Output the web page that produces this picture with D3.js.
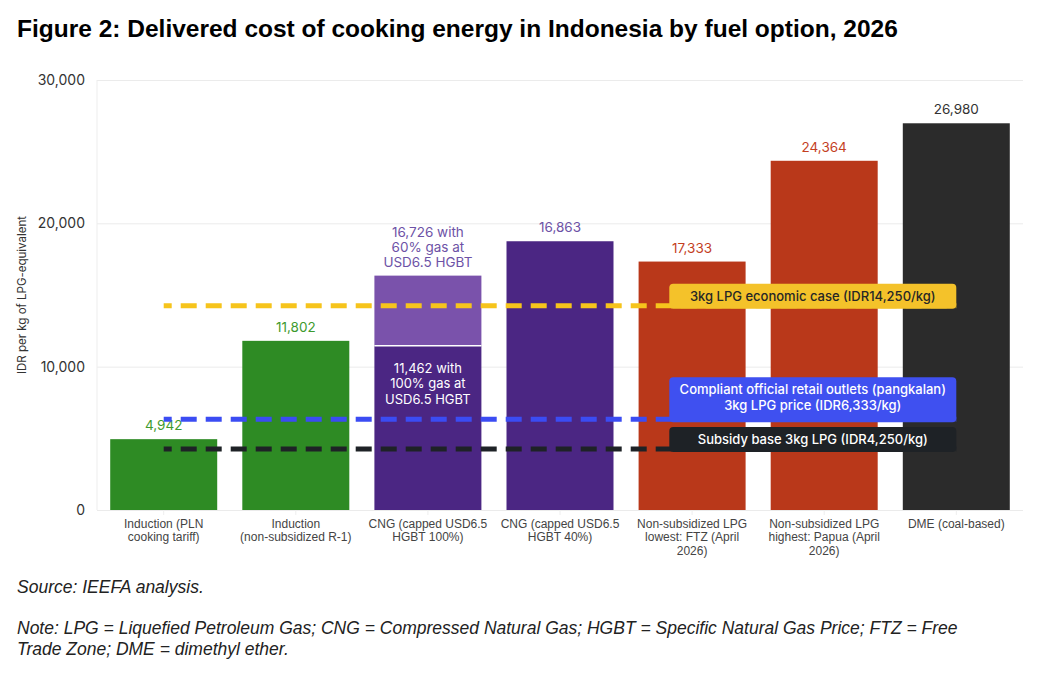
<!DOCTYPE html>
<html lang="en">
<head>
    <meta charset="UTF-8">
    <title>Figure 2</title>
    <script src="https://d3js.org/d3.v7.min.js"></script>
    <style>
        * { margin: 0; padding: 0; box-sizing: border-box; }
        body { background: #fff; font-family: Inter, "Noto Sans", sans-serif; }
        .title { font-family: "Liberation Sans", Arial, sans-serif; font-weight: bold; }
        .foot { font-family: "Liberation Sans", Arial, sans-serif; font-style: italic; }
    </style>
</head>
<body>
    <div id="chart"></div>
    <script>
        // categories (x axis labels, one entry per line)
        const categories = [
            ["Induction (PLN", "cooking tariff)"],
            ["Induction", "(non-subsidized R-1)"],
            ["CNG (capped USD6.5", "HGBT 100%)"],
            ["CNG (capped USD6.5", "HGBT 40%)"],
            ["Non-subsidized LPG", "lowest: FTZ (April", "2026)"],
            ["Non-subsidized LPG", "highest: Papua (April", "2026)"],
            ["DME (coal-based)"]
        ];
        // bar heights as drawn in the picture
        const barBase = [4942, 11802, 11462, 18750, 17333, 24364, 26980];
        const barTop  = [0, 0, 4890, 0, 0, 0, 0];   // extra stacked segment (CNG 60% gas)
        const valueLabels = [["4,942"], ["11,802"], ["16,726 with", "60% gas at", "USD6.5 HGBT"],
                             ["16,863"], ["17,333"], ["24,364"], ["26,980"]];
        const innerLabel = ["11,462 with", "100% gas at", "USD6.5 HGBT"];
        const yTicks = [0, 10000, 20000, 30000];

        const refValues = [14250, 6333, 4250];
        const refLabels = [
            ["3kg LPG economic case (IDR14,250/kg)"],
            ["Compliant official retail outlets (pangkalan)", "3kg LPG price (IDR6,333/kg)"],
            ["Subsidy base 3kg LPG (IDR4,250/kg)"]
        ];

        const barColors = ["#2e8b24", "#2e8b24", "#4b2683", "#4b2683", "#b9381a", "#b9381a", "#2b2b2b"];
        const labelColors = ["#3e9a2e", "#3e9a2e", "#6d52a6", "#6d52a6", "#c43f1f", "#c43f1f", "#333"];
        const refLine = ["#f6c41c", "#3b4cf3", "#1e2226"];
        const refBox = ["#f4c22a", "#3f50f0", "#1e2226"];
        const refText = ["#262626", "#fff", "#fff"];

        const W = 1045, H = 675;
        const margin = { top: 80, left: 97, right: 22, bottom: 165 };
        const width = W - margin.left - margin.right,
              height = H - margin.top - margin.bottom;

        const svg = d3.select("#chart").append("svg")
            .attr("width", W).attr("height", H);

        svg.append("text").attr("class", "title")
            .attr("x", 17).attr("y", 37)
            .style("font-size", "24.5px").attr("fill", "#000")
            .text("Figure 2: Delivered cost of cooking energy in Indonesia by fuel option, 2026");

        const g = svg.append("g").attr("transform", `translate(${margin.left},${margin.top})`);

        const x = d3.scaleBand()
            .domain(d3.range(categories.length))
            .range([0, width])
            .paddingInner(0.19)
            .paddingOuter(0.1);

        const y = d3.scaleLinear().domain([0, 30000]).range([height, 0]);

        // grid
        g.append("g")
            .call(d3.axisLeft(y).tickValues(yTicks).tickSize(-width).tickFormat(""))
            .call(a => a.select(".domain").remove())
            .selectAll("line").attr("stroke", "#ebebeb");

        g.append("line").attr("x1", 0).attr("x2", 0).attr("y1", 0).attr("y2", height)
            .attr("stroke", "#ededed");

        // y axis labels
        g.append("g")
            .call(d3.axisLeft(y).tickValues(yTicks).tickSize(0).tickPadding(12).tickFormat(d3.format(",")))
            .call(a => a.select(".domain").remove())
            .selectAll("text")
            .style("font-size", "14px").style("font-family", "Inter, sans-serif")
            .attr("fill", "#333");

        svg.append("text")
            .attr("transform", `translate(26,${margin.top + 215}) rotate(-90)`)
            .attr("text-anchor", "middle")
            .style("font-size", "11.5px").attr("fill", "#333")
            .text("IDR per kg of LPG-equivalent");

        // x axis
        const xa = g.append("g")
            .attr("transform", `translate(0,${height})`)
            .call(d3.axisBottom(x).tickSize(5).tickFormat(""));
        xa.select(".domain").remove();
        xa.selectAll("line").attr("stroke", "#eee");
        xa.selectAll(".tick").append("text")
            .attr("text-anchor", "middle")
            .attr("fill", "#444")
            .style("font-size", "12px")
            .selectAll("tspan")
            .data(i => categories[i])
            .join("tspan")
            .attr("x", 0)
            .attr("y", (d, j) => 18 + j * 13.3)
            .text(d => d);

        // bars
        const bw = x.bandwidth();
        g.selectAll(".bar").data(barBase).join("rect")
            .attr("x", (d, i) => x(i)).attr("width", bw)
            .attr("y", d => y(d)).attr("height", d => height - y(d))
            .attr("fill", (d, i) => barColors[i]);

        g.selectAll(".bartop").data(barTop.map((t, i) => ({ t, i })).filter(d => d.t > 0)).join("rect")
            .attr("x", d => x(d.i)).attr("width", bw)
            .attr("y", d => y(barBase[d.i] + d.t))
            .attr("height", d => y(barBase[d.i]) - y(barBase[d.i] + d.t))
            .attr("fill", "#7a52ab");

        barTop.forEach((t, i) => {
            if (t <= 0) return;
            g.append("line")
                .attr("x1", x(i)).attr("x2", x(i) + bw)
                .attr("y1", y(barBase[i])).attr("y2", y(barBase[i]))
                .attr("stroke", "#fff").attr("stroke-width", 1.5);
            g.append("text")
                .attr("text-anchor", "middle").attr("fill", "#fff")
                .style("font-size", "13px")
                .selectAll("tspan").data(innerLabel).join("tspan")
                .attr("x", x(i) + bw / 2)
                .attr("y", (d, j) => y(barBase[i]) + 27 + j * 15.6)
                .text(d => d);
        });

        // value labels
        g.selectAll(".val").data(valueLabels).join("text")
            .attr("text-anchor", "middle")
            .attr("fill", (d, i) => labelColors[i])
            .style("font-size", "13.5px")
            .each(function (lines, i) {
                const top = y(barBase[i] + barTop[i]);
                d3.select(this).selectAll("tspan").data(lines).join("tspan")
                    .attr("x", x(i) + bw / 2)
                    .attr("y", (d, j) => top - 9 - (lines.length - 1 - j) * 15)
                    .text(d => d);
            });

        // reference lines
        const cx0 = x(0) + bw / 2, cx1 = x(categories.length - 1) + bw / 2;
        g.selectAll(".ref").data(refValues).join("line")
            .attr("x1", cx0).attr("x2", cx1)
            .attr("y1", d => y(d)).attr("y2", d => y(d))
            .attr("stroke", (d, i) => refLine[i])
            .attr("stroke-width", 5)
            .attr("stroke-dasharray", "16,9")
            .attr("stroke-dashoffset", 8);

        // reference labels
        const boxW = 287;
        refValues.forEach((v, i) => {
            const lines = refLabels[i];
            const bh = lines.length === 1 ? 25 : 45;
            const by = y(v) + 3 - bh;
            g.append("rect")
                .attr("x", cx1 - boxW).attr("y", by)
                .attr("width", boxW).attr("height", bh)
                .attr("rx", 4)
                .attr("fill", refBox[i]);
            g.append("text")
                .attr("text-anchor", "middle")
                .attr("fill", refText[i])
                .style("font-size", "13px").style("font-weight", 500)
                .selectAll("tspan").data(lines).join("tspan")
                .attr("x", cx1 - boxW / 2)
                .attr("y", (d, j) => by + 17 + j * 15.7)
                .text(d => d);
        });

        // footnotes
        const foot = [
            { t: "Source: IEEFA analysis.", y: 593 },
            { t: "Note: LPG = Liquefied Petroleum Gas; CNG = Compressed Natural Gas; HGBT = Specific Natural Gas Price; FTZ = Free", y: 634 },
            { t: "Trade Zone; DME = dimethyl ether.", y: 655 }
        ];
        svg.selectAll(".foot").data(foot).join("text")
            .attr("class", "foot")
            .attr("x", 17).attr("y", d => d.y)
            .style("font-size", "17.5px").attr("fill", "#222")
            .text(d => d.t);
    </script>
</body>
</html>
